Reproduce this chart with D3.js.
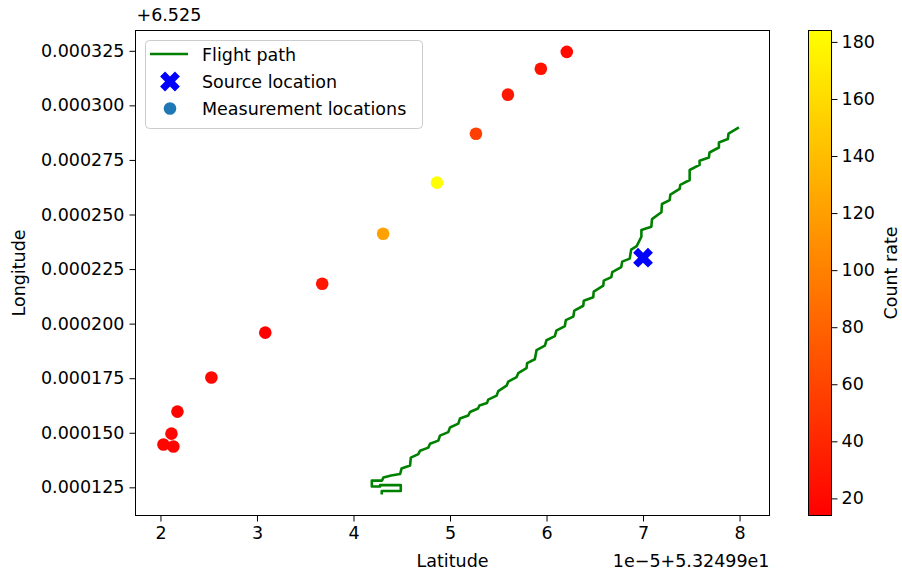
<!DOCTYPE html>
<html>
<head>
<meta charset="utf-8">
<script src="https://cdn.jsdelivr.net/npm/d3@7"></script>
<style>
  body { margin: 0; background: #fff; }
  text { font-family: "DejaVu Sans", sans-serif; fill: #000; }
</style>
</head>
<body>
<svg id="chart" width="902" height="571"></svg>
<script>
// Latitude offsets are in units of 1e-5 deg above 53.2499; longitude offsets are deg above 6.525.
const pathLat = [4.293, 4.293, 4.490, 4.490, 4.276, 4.276, 4.190, 4.190, 4.296, 4.310,
  4.390, 4.483, 4.498, 4.586, 4.594, 4.672, 4.690, 4.775, 4.793, 4.879,
  4.896, 4.982, 5.000, 5.086, 5.103, 5.189, 5.207, 5.290, 5.305, 5.383,
  5.396, 5.483, 5.500, 5.586, 5.603, 5.690, 5.707, 5.793, 5.799, 5.879,
  5.897, 5.983, 6.000, 6.086, 6.102, 6.190, 6.200, 6.277, 6.288, 6.381,
  6.386, 6.484, 6.489, 6.588, 6.593, 6.671, 6.681, 6.774, 6.784, 6.862,
  6.877, 6.934, 6.983, 6.983, 7.086, 7.093, 7.190, 7.196, 7.276, 7.283,
  7.379, 7.386, 7.483, 7.483, 7.586, 7.586, 7.682, 7.689, 7.786, 7.786,
  7.879, 7.886, 7.982];
const pathLon = [0.0001223, 0.0001233, 0.0001233, 0.0001260, 0.0001260, 0.0001254, 0.0001254, 0.0001281, 0.0001281, 0.0001295,
  0.0001304, 0.0001311, 0.0001336, 0.0001350, 0.0001386, 0.0001402, 0.0001418, 0.0001432, 0.0001450, 0.0001464,
  0.0001487, 0.0001503, 0.0001524, 0.0001542, 0.0001565, 0.0001579, 0.0001595, 0.0001611, 0.0001625, 0.0001636,
  0.0001652, 0.0001670, 0.0001691, 0.0001716, 0.0001734, 0.0001755, 0.0001773, 0.0001796, 0.0001819, 0.0001837,
  0.0001879, 0.0001899, 0.0001924, 0.0001943, 0.0001968, 0.0001989, 0.0002016, 0.0002032, 0.0002060, 0.0002082,
  0.0002105, 0.0002121, 0.0002147, 0.0002174, 0.0002197, 0.0002213, 0.0002236, 0.0002259, 0.0002284, 0.0002298,
  0.0002339, 0.0002355, 0.0002398, 0.0002429, 0.0002444, 0.0002479, 0.0002510, 0.0002548, 0.0002566, 0.0002591,
  0.0002617, 0.0002636, 0.0002658, 0.0002704, 0.0002727, 0.0002746, 0.0002761, 0.0002784, 0.0002807, 0.0002830,
  0.0002846, 0.0002871, 0.0002896];

const measLat = [2.031, 2.134, 2.114, 2.176, 2.528, 3.086, 3.676, 4.307, 4.865, 5.269, 5.600, 5.941, 6.210];
const measLon = [0.0001446, 0.0001437, 0.0001496, 0.0001597, 0.0001753, 0.0001959, 0.0002183,
  0.0002412, 0.0002646, 0.0002870, 0.0003049, 0.0003168, 0.0003245];
const countRate = [17, 16, 18, 15, 19, 14, 28, 121, 184, 55, 30, 25, 21];

const sourceLat = [7.0];
const sourceLon = [0.0002302];

const xTicks = [2, 3, 4, 5, 6, 7, 8];
const yTicks = [0.000125, 0.000150, 0.000175, 0.000200, 0.000225, 0.000250, 0.000275, 0.000300, 0.000325];
const cTicks = [20, 40, 60, 80, 100, 120, 140, 160, 180];

const legendLabels = ["Flight path", "Source location", "Measurement locations"];

// ---- layout ----
const FS = 17.5;
const plot = { left: 135.5, right: 769.5, top: 30.5, bottom: 515.5 };
const cbar = { left: 808.5, right: 831.5, top: 30.5, bottom: 515.5 };

const svg = d3.select("#chart");

const x = d3.scaleLinear().domain([1.7414, 8.3103]).range([plot.left, plot.right]);
const y = d3.scaleLinear().domain([0.0001121, 0.0003343]).range([plot.bottom, plot.top]);
const cExtent = d3.extent(countRate);
// "autumn" colormap: red -> yellow
const color = d3.scaleLinear().domain(cExtent).range(["#ff0000", "#ffff00"]).clamp(true);

// filled "X" marker: a plus shape with arms one third as wide, rotated 45 degrees
function xMarkerPath(s) {
  const base = [[-1,-3],[1,-3],[1,-1],[3,-1],[3,1],[1,1],[1,3],[-1,3],[-1,1],[-3,1],[-3,-1],[-1,-1]];
  const c = Math.SQRT1_2;
  const pts = base.map(([a, b]) => {
    const u = a * s / 6, v = b * s / 6;
    return [u * c - v * c, u * c + v * c];
  });
  return "M" + pts.map(p => p.join(",")).join("L") + "Z";
}

// ---- main axes ----
const clipId = "plotclip";
svg.append("clipPath").attr("id", clipId)
  .append("rect")
  .attr("x", plot.left).attr("y", plot.top)
  .attr("width", plot.right - plot.left).attr("height", plot.bottom - plot.top);

const g = svg.append("g").attr("clip-path", `url(#${clipId})`);

// flight path
const line = d3.line().x(d => x(d[0])).y(d => y(d[1]));
g.append("path")
  .datum(pathLat.map((v, i) => [v, pathLon[i]]))
  .attr("d", line)
  .attr("fill", "none")
  .attr("stroke", "#008000")
  .attr("stroke-width", 2.6)
  .attr("stroke-linejoin", "round")
  .attr("stroke-linecap", "square");

// source location
g.selectAll(".src")
  .data(sourceLat.map((v, i) => [v, sourceLon[i]]))
  .join("path")
  .attr("transform", d => `translate(${x(d[0])},${y(d[1])})`)
  .attr("d", xMarkerPath(21))
  .attr("fill", "#0000ff");

// measurement locations coloured by count rate
g.selectAll(".meas")
  .data(measLat.map((v, i) => ({ lat: v, lon: measLon[i], c: countRate[i] })))
  .join("circle")
  .attr("cx", d => x(d.lat))
  .attr("cy", d => y(d.lon))
  .attr("r", 6.3)
  .attr("fill", d => color(d.c));

// axes
const xAxis = svg.append("g")
  .attr("transform", `translate(0,${plot.bottom})`)
  .call(d3.axisBottom(x).tickValues(xTicks).tickFormat(d3.format("d")).tickSize(6).tickSizeOuter(0).tickPadding(5));
const yAxis = svg.append("g")
  .attr("transform", `translate(${plot.left},0)`)
  .call(d3.axisLeft(y).tickValues(yTicks).tickFormat(d => d.toFixed(6)).tickSize(6).tickSizeOuter(0).tickPadding(5));
[xAxis, yAxis].forEach(a => {
  a.select(".domain").remove();
  a.selectAll("text").style("font-size", FS + "px").attr("fill", "#000");
  a.selectAll("line").attr("stroke", "#000").attr("stroke-width", 1);
});

// frame
svg.append("rect")
  .attr("x", plot.left).attr("y", plot.top)
  .attr("width", plot.right - plot.left).attr("height", plot.bottom - plot.top)
  .attr("fill", "none").attr("stroke", "#000").attr("stroke-width", 1);

// axis labels and offset text
svg.append("text").attr("x", (plot.left + plot.right) / 2).attr("y", 567)
  .attr("text-anchor", "middle").style("font-size", FS + "px").text("Latitude");
svg.append("text").attr("x", plot.right).attr("y", 567)
  .attr("text-anchor", "end").style("font-size", FS + "px").text("1e\u22125+5.32499e1");
svg.append("text").attr("transform", `translate(25,${(plot.top + plot.bottom) / 2}) rotate(-90)`)
  .attr("text-anchor", "middle").style("font-size", FS + "px").text("Longitude");
svg.append("text").attr("x", plot.left + 1).attr("y", 21)
  .style("font-size", FS + "px").text("+6.525");

// ---- legend ----
const lg = svg.append("g");
lg.append("rect")
  .attr("x", 145.5).attr("y", 40.5).attr("width", 277).attr("height", 88).attr("rx", 4)
  .attr("fill", "#fff").attr("fill-opacity", 0.8)
  .attr("stroke", "#cccccc").attr("stroke-width", 1);
const rowY = [54, 81.5, 108.5];
lg.append("line").attr("x1", 150).attr("x2", 188).attr("y1", rowY[0]).attr("y2", rowY[0])
  .attr("stroke", "#008000").attr("stroke-width", 2.6);
lg.append("path").attr("transform", `translate(170,${rowY[1]})`)
  .attr("d", xMarkerPath(21)).attr("fill", "#0000ff");
lg.append("circle").attr("cx", 170).attr("cy", rowY[2]).attr("r", 6.3).attr("fill", "#1f77b4");
lg.selectAll(".lt").data(legendLabels).join("text")
  .attr("x", 202).attr("y", (d, i) => rowY[i] + 6.5)
  .style("font-size", FS + "px").text(d => d);

// ---- colorbar ----
const defs = svg.append("defs");
const grad = defs.append("linearGradient").attr("id", "cbgrad")
  .attr("x1", 0).attr("y1", 1).attr("x2", 0).attr("y2", 0);
grad.append("stop").attr("offset", 0).attr("stop-color", color(cExtent[0]));
grad.append("stop").attr("offset", 1).attr("stop-color", color(cExtent[1]));

const cy = d3.scaleLinear().domain(cExtent).range([cbar.bottom, cbar.top]);
svg.append("rect")
  .attr("x", cbar.left).attr("y", cbar.top)
  .attr("width", cbar.right - cbar.left).attr("height", cbar.bottom - cbar.top)
  .attr("fill", "url(#cbgrad)").attr("stroke", "#000").attr("stroke-width", 1);
const cAxis = svg.append("g")
  .attr("transform", `translate(${cbar.right},0)`)
  .call(d3.axisRight(cy).tickValues(cTicks).tickSize(6).tickSizeOuter(0).tickPadding(4));
cAxis.select(".domain").remove();
cAxis.selectAll("text").style("font-size", FS + "px").attr("fill", "#000");
cAxis.selectAll("line").attr("stroke", "#000");
svg.append("text").attr("transform", `translate(897,${(cbar.top + cbar.bottom) / 2}) rotate(-90)`)
  .attr("text-anchor", "middle").style("font-size", FS + "px").text("Count rate");
</script>
</body>
</html>
